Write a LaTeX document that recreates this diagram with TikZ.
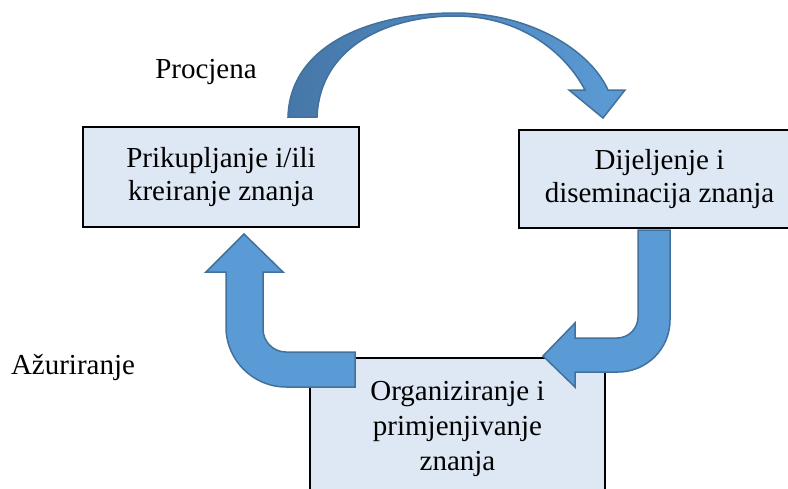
\documentclass[tikz,border=0pt]{standalone}
\usepackage{fontspec}
\setmainfont{Liberation Serif}
\usetikzlibrary{positioning}

\definecolor{boxfill}{HTML}{DDE8F4}
\definecolor{arrowfill}{HTML}{5B9BD5}
\definecolor{arrowdark}{HTML}{4677A8}
\definecolor{arrowline}{HTML}{41719C}

\begin{document}
\begin{tikzpicture}[x=1pt,y=-1pt,
		block/.style={rectangle,draw=black,line width=2pt,fill=boxfill,align=center,inner sep=0pt,
			font=\fontsize{29}{33}\selectfont},
		label/.style={font=\fontsize{29}{33}\selectfont,inner sep=0pt},
		blockarrow/.style={fill=arrowfill,draw=arrowline,line width=1.5pt,line join=miter}]
	\useasboundingbox (0,0) rectangle (788,488);
	\node[block,minimum width=276pt,minimum height=100pt] (collect) at (221,177) {Prikupljanje i/ili\\kreiranje znanja};
	\node[block,minimum width=281pt,minimum height=98pt] (share) at (659.5,179) {Dijeljenje i\\diseminacija znanja};
	\node[block,minimum width=295pt,minimum height=142pt,font=\fontsize{29}{35}\selectfont] (organize) at (457.5,429) {Organiziranje i\\primjenjivanje\\znanja};
	\node[label] (assess) at (206,72) {Procjena};
	\node[label] (update) at (73,367) {Ažuriranje};

	% Procjena: curved arrow from collect to share
	\path[draw=arrowline,line width=1.5pt,left color=arrowdark,right color=arrowfill]
		(288,117) .. controls (290,45) and (370,13) .. (455,13)
		.. controls (530,13) and (590,50) .. (608,90) -- (625,90) -- (603,118) -- (569,90) -- (585,90)
		.. controls (565,52) and (520,16) .. (455,16)
		.. controls (390,16) and (320,45) .. (317,117) -- cycle;
	% share -> organize
	\path[blockarrow] (638,230) -- (670,230) -- (670,320)
		.. controls (670,348.7) and (646.7,372) .. (618,372) -- (575,372) -- (575,387) -- (543,356)
		-- (575,323) -- (575,338) -- (617,338)
		.. controls (628.6,338) and (638,328.6) .. (638,317) -- cycle;
	% Ažuriranje: organize -> collect
	\path[blockarrow] (244,234) -- (283,272) -- (263,272) -- (263,329)
		.. controls (263,341.7) and (273.3,352) .. (286,352) -- (355,352) -- (355,387) -- (286,387)
		.. controls (253,387) and (226,360) .. (226,327) -- (226,272) -- (206,272) -- cycle;
\end{tikzpicture}
\end{document}
